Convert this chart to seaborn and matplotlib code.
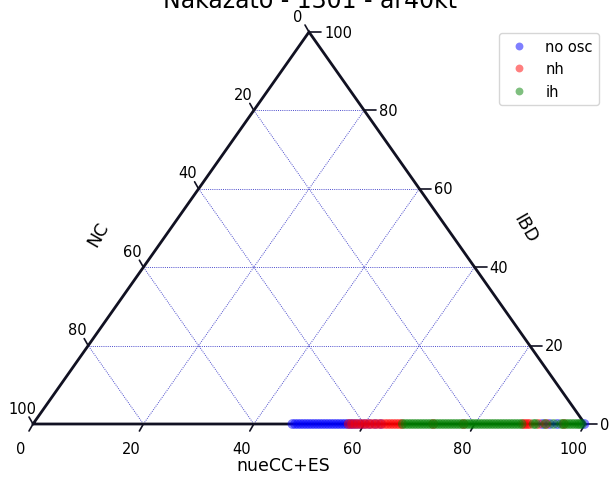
import numpy as np
import pandas as pd
import matplotlib
matplotlib.use("Agg")
import matplotlib.pyplot as plt
import seaborn as sns

title = "Nakazato - 1301 - ar40kt"
axis_bottom = "nueCC+ES"
axis_left = "NC"
axis_right = "IBD"
tick_values = [0, 20, 40, 60, 80, 100]
series_names = ["no osc", "nh", "ih"]
series_colors = ["blue", "red", "green"]

# nueCC+ES fraction (%) for each sample; IBD fraction is ~0 for all points
no_osc_nue = [47.0, 47.5, 48.0, 48.5, 49.0, 49.5, 50.0, 50.5, 51.0, 51.5, 52.0,
              52.5, 53.0, 53.5, 54.0, 54.5, 55.0, 55.5, 56.0, 56.5, 57.0, 57.5,
              58.0, 58.6, 59.3, 60.1, 61.0, 62.0, 63.0, 92.3, 93.6, 95.0, 99.9]
no_osc_ibd = [0.0] * len(no_osc_nue)

nh_nue = [57.2, 57.8, 58.4, 59.0, 59.6, 60.2, 60.8, 61.4, 62.0, 62.6, 63.2,
          63.8, 64.3, 64.8, 65.3, 65.8, 66.3, 66.8, 72.5, 78.0, 88.8, 89.2,
          89.6, 90.0, 91.6, 93.0, 96.2]
nh_ibd = [0.0] * len(nh_nue)

ih_nue = [67.0, 67.5, 68.0, 68.5, 69.0, 69.5, 70.0, 70.5, 71.0, 71.5, 72.0,
          72.5, 73.0, 73.5, 74.0, 74.5, 75.0, 75.5, 76.0, 76.5, 77.0, 77.5,
          78.0, 78.5, 79.0, 79.5, 80.0, 80.5, 81.0, 81.5, 82.0, 82.5, 83.0,
          83.5, 84.0, 84.5, 85.0, 85.5, 86.0, 86.5, 87.0, 87.5, 88.0, 88.5,
          90.7, 91.1, 92.8, 94.3, 95.7, 96.1, 96.6, 97.1, 97.6, 98.1, 98.6,
          99.0, 99.4]
ih_ibd = [0.0] * len(ih_nue)

S3 = np.sqrt(3) / 2


def proj(nue, ibd):
    nue = np.asarray(nue, dtype=float)
    ibd = np.asarray(ibd, dtype=float)
    return nue + ibd / 2.0, ibd * S3


rows = []
for name, nue, ibd in [("no osc", no_osc_nue, no_osc_ibd),
                       ("nh", nh_nue, nh_ibd),
                       ("ih", ih_nue, ih_ibd)]:
    x, y = proj(nue, ibd)
    for xi, yi in zip(x, y):
        rows.append({"x": xi, "y": yi, "series": name})
df = pd.DataFrame(rows)

sns.set_style("white")
plt.rcParams["font.family"] = ["DejaVu Sans"]
plt.rcParams["text.color"] = "black"

W, H = 615, 502
fig = plt.figure(figsize=(W / 100, H / 100), dpi=100)
ax = fig.add_axes([0, 0, 1, 1])

# pixel geometry of the triangle
px_l, px_r, py_b, py_t = 33.0, 585.0, 425.0, 33.0
sx = (px_r - px_l) / 100.0
sy = (py_b - py_t) / (100 * S3)
ax.set_xlim(-px_l / sx, (W - px_l) / sx)
ax.set_ylim(-(H - py_b) / sy, py_b / sy)
ax.axis("off")

# gridlines
grid_kw = dict(color="#2020c0", lw=0.7, ls=(0, (1, 1.2)), alpha=0.8, zorder=1)
for v in [20, 40, 60, 80]:
    ax.plot([v / 2, 100 - v / 2], [v * S3, v * S3], **grid_kw)
    ax.plot([v, v + (100 - v) / 2], [0, (100 - v) * S3], **grid_kw)
    ax.plot([v, v / 2], [0, v * S3], **grid_kw)

# boundary
ax.plot([0, 100, 50, 0], [0, 0, 100 * S3, 0], color="#111122", lw=2,
        zorder=2, solid_joinstyle="miter")

# ticks and tick labels
tk = dict(color="#111122", lw=1.2, zorder=2)
lab = dict(fontsize=10.5, color="black")
for v in tick_values:
    # bottom
    ax.plot([v, v - 4 / sx], [0, -7 / sy], **tk)
    ax.annotate(str(v), xy=(v, 0), xytext=(-12, -24), textcoords="offset pixels",
                ha="center", va="center", **lab)
    # left (NC)
    lx, ly = 50 - v / 2, (100 - v) * S3
    ax.plot([lx, lx - 4 / sx], [ly, ly + 7 / sy], **tk)
    ax.annotate(str(v), xy=(lx, ly), xytext=(-11, 16), textcoords="offset pixels",
                ha="center", va="center", **lab)
    # right (IBD)
    rx, ry = 100 - v / 2, v * S3
    ax.plot([rx, rx + 12 / sx], [ry, ry], **tk)
    ax.annotate(str(v), xy=(rx, ry), xytext=(15, 0), textcoords="offset pixels",
                ha="left", va="center", **lab)

# points
sns.scatterplot(data=df, x="x", y="y", hue="series", hue_order=series_names,
                palette=dict(zip(series_names, series_colors)), s=50,
                alpha=0.5, linewidth=0, ax=ax, zorder=3, clip_on=False)

handles, labels = ax.get_legend_handles_labels()
leg = ax.legend(handles, labels, loc="upper right",
                bbox_to_anchor=(606 / W, 1 - 27 / H),
                bbox_transform=fig.transFigure, fontsize=10.5, frameon=True,
                markerscale=0.8)
for t in leg.get_texts():
    t.set_color("black")

# axis labels and title
fig.text(98 / W, 1 - 235 / H, axis_left, rotation=60, ha="center", va="center",
         fontsize=12.5, color="black")
fig.text(525 / W, 1 - 229 / H, axis_right, rotation=-60, ha="center",
         va="center", fontsize=12.5, color="black")
fig.text(283 / W, 1 - 466 / H, axis_bottom, ha="center", va="center",
         fontsize=12.5, color="black")
fig.text(310 / W, 1 - 8 / H, title, ha="center", va="baseline", fontsize=17,
         color="black")

fig.savefig("out.png", dpi=100)
